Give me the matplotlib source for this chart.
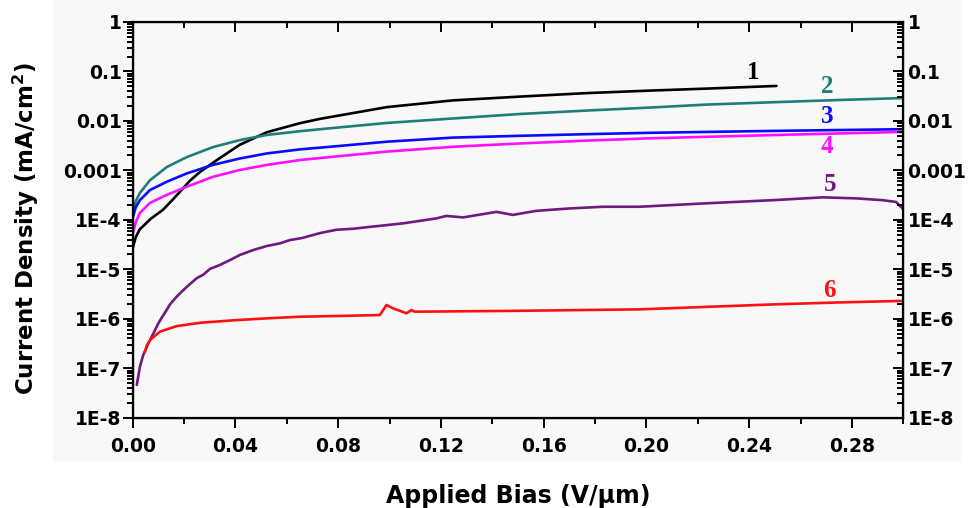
import matplotlib
matplotlib.use("Agg")
import matplotlib.pyplot as plt
from matplotlib.patches import Rectangle
from matplotlib.ticker import FixedLocator, FixedFormatter, LogLocator, NullFormatter, MultipleLocator

# Applied bias (V/um) and current density (mA/cm^2) for each sample
x1 = [0.0001, 0.0012, 0.0028, 0.0040, 0.0070, 0.0118, 0.0157, 0.0190, 0.0223, 0.0262,
      0.0328, 0.0417, 0.0522, 0.0651, 0.0729, 0.0857, 0.0989, 0.1246, 0.1506, 0.1767,
      0.2012, 0.2234, 0.2506]
y1 = [2.8e-5, 4.5e-5, 6.5e-5, 7.4e-5, 1.05e-4, 1.6e-4, 2.6e-4, 4.0e-4, 6.2e-4, 9.3e-4,
      1.62e-3, 3.3e-3, 5.9e-3, 9.0e-3, 1.1e-2, 1.44e-2, 1.9e-2, 2.6e-2, 3.1e-2, 3.65e-2,
      4.1e-2, 4.5e-2, 5.1e-2]

x2 = [0.0001, 0.0012, 0.0028, 0.0067, 0.0133, 0.0211, 0.0312, 0.0417, 0.0522, 0.0651,
      0.0768, 0.0989, 0.1246, 0.1506, 0.1767, 0.2012, 0.2234, 0.2506, 0.2751, 0.2997]
y2 = [1.38e-4, 2.4e-4, 3.5e-4, 6.3e-4, 1.17e-3, 1.86e-3, 2.95e-3, 4.1e-3, 5.2e-3, 6.2e-3,
      7.1e-3, 9.1e-3, 1.12e-2, 1.38e-2, 1.62e-2, 1.86e-2, 2.14e-2, 2.4e-2, 2.65e-2, 2.9e-2]

x3 = [0.0001, 0.0012, 0.0028, 0.0067, 0.0133, 0.0211, 0.0312, 0.0417, 0.0522, 0.0651,
      0.0768, 0.0989, 0.1246, 0.1506, 0.1767, 0.2012, 0.2506, 0.2997]
y3 = [1.15e-4, 1.8e-4, 2.5e-4, 4.0e-4, 5.9e-4, 8.7e-4, 1.29e-3, 1.74e-3, 2.2e-3, 2.66e-3,
      3.0e-3, 3.8e-3, 4.6e-3, 5.0e-3, 5.4e-3, 5.75e-3, 6.3e-3, 6.8e-3]

x4 = [0.0001, 0.0012, 0.0028, 0.0067, 0.0133, 0.0211, 0.0312, 0.0417, 0.0522, 0.0651,
      0.0768, 0.0989, 0.1246, 0.1506, 0.1767, 0.2012, 0.2506, 0.2997]
y4 = [5.4e-5, 9.0e-5, 1.38e-4, 2.2e-4, 3.2e-4, 4.7e-4, 7.4e-4, 1.02e-3, 1.29e-3, 1.62e-3,
      1.86e-3, 2.4e-3, 3.0e-3, 3.5e-3, 4.0e-3, 4.45e-3, 5.2e-3, 6.0e-3]

x5 = [0.0016, 0.0028, 0.0041, 0.0061, 0.0080, 0.0100, 0.0113, 0.0132, 0.0145, 0.0171,
      0.0210, 0.0249, 0.0275, 0.0301, 0.0340, 0.0379, 0.0417, 0.0469, 0.0521, 0.0573,
      0.0612, 0.0660, 0.0729, 0.0793, 0.0857, 0.0923, 0.1053, 0.1182, 0.1221, 0.1286,
      0.1416, 0.1480, 0.1571, 0.1701, 0.1830, 0.1973, 0.2233, 0.2492, 0.2686, 0.2816,
      0.2919, 0.2972, 0.2997]
y5 = [4.6e-8, 1.07e-7, 1.85e-7, 3.2e-7, 5.0e-7, 8.1e-7, 1.05e-6, 1.5e-6, 1.95e-6, 2.8e-6,
      4.4e-6, 6.6e-6, 7.8e-6, 1.02e-5, 1.23e-5, 1.54e-5, 1.95e-5, 2.45e-5, 2.95e-5, 3.35e-5,
      3.9e-5, 4.3e-5, 5.4e-5, 6.3e-5, 6.6e-5, 7.2e-5, 8.5e-5, 1.07e-4, 1.2e-4, 1.12e-4,
      1.45e-4, 1.26e-4, 1.52e-4, 1.7e-4, 1.84e-4, 1.84e-4, 2.16e-4, 2.5e-4, 2.85e-4, 2.72e-4,
      2.5e-4, 2.3e-4, 1.7e-4]

x6 = [0.0048, 0.0055, 0.0067, 0.0106, 0.0171, 0.0262, 0.0391, 0.0521, 0.0651, 0.0767,
      0.0962, 0.0988, 0.1014, 0.1066, 0.1085, 0.1098, 0.1506, 0.1973, 0.2233, 0.2492,
      0.2751, 0.2997]
y6 = [2.15e-7, 2.9e-7, 3.7e-7, 5.5e-7, 7.1e-7, 8.3e-7, 9.3e-7, 1.02e-6, 1.1e-6, 1.13e-6,
      1.19e-6, 1.9e-6, 1.62e-6, 1.29e-6, 1.5e-6, 1.39e-6, 1.45e-6, 1.55e-6, 1.74e-6, 1.95e-6,
      2.14e-6, 2.3e-6]

series_x = [x1, x2, x3, x4, x5, x6]
series_y = [y1, y2, y3, y4, y5, y6]
series_names = ["1", "2", "3", "4", "5", "6"]
series_colors = ["#000000", "#1f7f78", "#0a0aff", "#ff10ff", "#6e1a7e", "#ff1010"]
label_x = [0.2417, 0.2703, 0.2703, 0.2703, 0.2715, 0.2711]
label_y = [0.094, 0.0508, 0.01216, 0.00301, 5.3e-4, 3.8e-6]

x_ticks = [0.00, 0.04, 0.08, 0.12, 0.16, 0.20, 0.24, 0.28]
x_tick_labels = ["0.00", "0.04", "0.08", "0.12", "0.16", "0.20", "0.24", "0.28"]
y_ticks = [1, 0.1, 0.01, 0.001, 1e-4, 1e-5, 1e-6, 1e-7, 1e-8]
y_tick_labels = ["1", "0.1", "0.01", "0.001", "1E-4", "1E-5", "1E-6", "1E-7", "1E-8"]

plt.rcParams["font.family"] = ["DejaVu Sans"]
plt.rcParams["font.weight"] = "bold"
plt.rcParams["mathtext.default"] = "bf"

fig = plt.figure(figsize=(9.7, 5.08), dpi=100)
fig.patch.set_facecolor("white")
# faint grey backdrop behind the plot
fig.patches.append(Rectangle((53 / 970, 1 - 462 / 508), (962 - 53) / 970, 462 / 508,
                             transform=fig.transFigure, facecolor="#f8f8f8",
                             edgecolor="none", zorder=-10))

ax = fig.add_axes([132.7 / 970, 1 - 417.7 / 508, (903.3 - 132.7) / 970, (417.7 - 22) / 508])
ax.set_facecolor("none")

for xs, ys, c in zip(series_x, series_y, series_colors):
    ax.plot(xs, ys, color=c, lw=1.9, solid_joinstyle="round", solid_capstyle="round")

for name, lx, ly, c in zip(series_names, label_x, label_y, series_colors):
    ax.text(lx, ly, name, color=c, fontsize=18, fontweight="bold",
            family=["Liberation Serif", "DejaVu Serif"], ha="center", va="center")

ax.set_yscale("log")
ax.set_xlim(0, 0.30)
ax.set_ylim(1e-8, 1)

ax.xaxis.set_major_locator(FixedLocator(x_ticks))
ax.xaxis.set_major_formatter(FixedFormatter(x_tick_labels))
ax.xaxis.set_minor_locator(MultipleLocator(0.02))
ax.yaxis.set_major_locator(FixedLocator(y_ticks))
ax.yaxis.set_major_formatter(FixedFormatter(y_tick_labels))
ax.yaxis.set_minor_locator(LogLocator(base=10, subs=range(2, 10), numticks=20))
ax.yaxis.set_minor_formatter(NullFormatter())

for s in ax.spines.values():
    s.set_linewidth(1.6)
ax.tick_params(which="both", direction="out", width=1.4, labelsize=13.5)
ax.tick_params(which="major", length=7)
ax.tick_params(which="minor", length=4)
ax.tick_params(axis="x", which="major", pad=7)
ax.tick_params(axis="y", which="major", pad=1)

ax.set_xlabel("Applied Bias (V/\u03bcm)", fontsize=17, fontweight="bold", labelpad=20)
ax.set_ylabel("Current Density (mA/cm$^{2}$)", fontsize=16.5, fontweight="bold")
ax.yaxis.set_label_coords(-0.119, 0.477)

# mirrored axes on the right and top with inward ticks
axr = ax.twinx()
axr.set_yscale("log")
axr.set_ylim(ax.get_ylim())
axr.yaxis.set_major_locator(FixedLocator(y_ticks))
axr.yaxis.set_major_formatter(FixedFormatter(y_tick_labels))
axr.yaxis.set_minor_locator(LogLocator(base=10, subs=range(2, 10), numticks=20))
axr.yaxis.set_minor_formatter(NullFormatter())
axr.tick_params(which="both", direction="in", width=1.4, labelsize=13.5, pad=3)
axr.tick_params(which="major", length=7)
axr.tick_params(which="minor", length=4)

axt = ax.twiny()
axt.set_xlim(ax.get_xlim())
axt.xaxis.set_major_locator(FixedLocator(x_ticks))
axt.xaxis.set_minor_locator(MultipleLocator(0.02))
axt.tick_params(which="both", direction="in", width=1.4, labeltop=False)
axt.tick_params(which="major", length=7)
axt.tick_params(which="minor", length=4)

fig.savefig("out.png", dpi=100)
